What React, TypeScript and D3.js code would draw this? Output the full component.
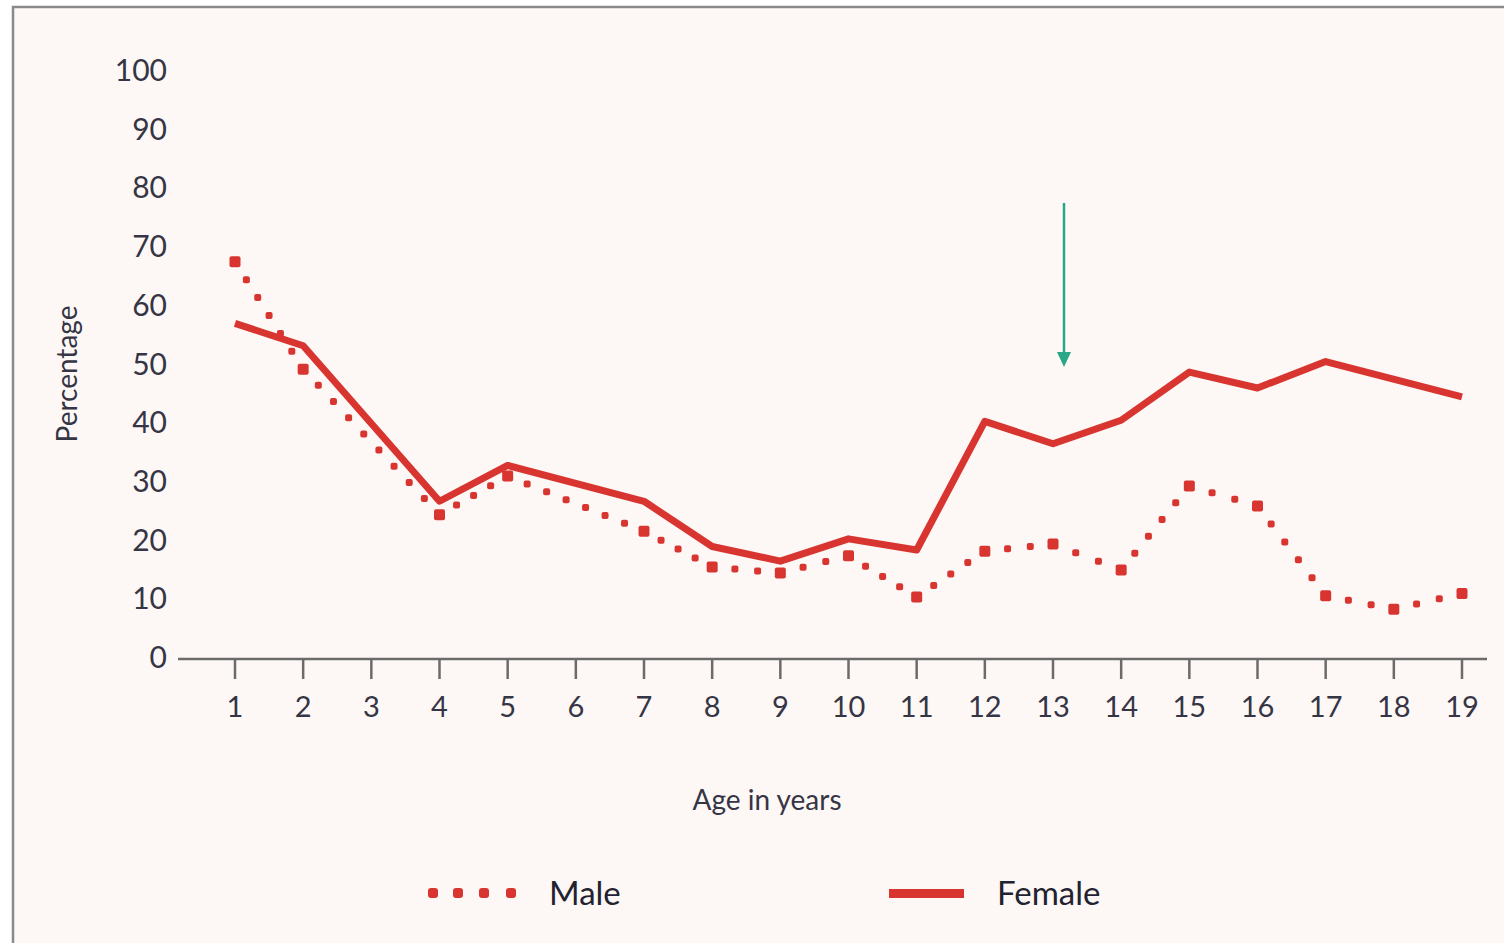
import React from "react";
import * as d3 from "d3";

// Share (%) by age, 1–19 years; null = no survey value for that age
const ages = d3.range(1, 20);
const maleValues: (number | null)[] = [67.5, 49.2, null, 24.4, 31, null, 21.6, 15.5, 14.5, 17.4, 10.4, 18.2, 19.4, 15, 29.3, 25.9, 10.6, 8.3, 11];
const femaleValues: (number | null)[] = [57, 53.2, null, 26.7, 32.8, null, 26.7, 19, 16.5, 20.3, 18.4, 40.3, 36.5, 40.5, 48.7, 46, 50.5, null, 44.5];
const yTicks = [0, 10, 20, 30, 40, 50, 60, 70, 80, 90, 100];
const seriesLabels = ["Male", "Female"];

const W = 1504;
const H = 943;
const RED = "#d93530";
const TEXT = "#353545";
const FONT = "Lato, 'Noto Sans', sans-serif";

type Pt = { age: number; v: number };
const points = (vals: (number | null)[]): Pt[] =>
  vals.flatMap((v, i) => (v == null ? [] : [{ age: ages[i], v }]));

export default function App() {
  const x = d3.scaleLinear().domain([1, 19]).range([235, 1462]);
  const y = d3.scaleLinear().domain([0, 100]).range([658, 71]);
  const axisY = y(0) + 1;

  const line = d3
    .line<Pt>()
    .x((d) => x(d.age))
    .y((d) => y(d.v));

  const male = points(maleValues);
  const female = points(femaleValues);

  const arrowX = x(13) + 11;

  return (
    <svg
      width={W}
      height={H}
      style={{ position: "absolute", left: 0, top: 0, display: "block" }}
      fontFamily={FONT}
    >
      <rect x={0} y={0} width={W} height={H} fill="#ffffff" />
      <rect x={13} y={7} width={W} height={H} fill="#fdf8f5" stroke="#8a8a8a" strokeWidth={2.5} />

      {/* y tick labels */}
      {yTicks.map((t) => (
        <text key={t} x={167} y={y(t) + 10} textAnchor="end" fontSize={30} fill={TEXT}>
          {t}
        </text>
      ))}

      {/* x axis */}
      <line x1={178} x2={1487} y1={axisY} y2={axisY} stroke="#6b6b6b" strokeWidth={2.5} />
      {ages.map((a) => (
        <g key={a}>
          <line x1={x(a)} x2={x(a)} y1={axisY} y2={axisY + 20} stroke="#6b6b6b" strokeWidth={2.5} />
          <text x={x(a)} y={717} textAnchor="middle" fontSize={29} fill={TEXT}>
            {a}
          </text>
        </g>
      ))}

      <text x={767} y={810} textAnchor="middle" fontSize={28} fill={TEXT}>
        Age in years
      </text>
      <text
        transform={`translate(77,374) rotate(-90)`}
        textAnchor="middle"
        fontSize={28}
        fill={TEXT}
      >
        Percentage
      </text>

      {/* Female */}
      <path d={line(female) ?? ""} fill="none" stroke={RED} strokeWidth={7} strokeLinejoin="round" />

      {/* Male: dotted line with markers at each observed age */}
      {male.slice(0, -1).map((p, i) => {
        const q = male[i + 1];
        const x0 = x(p.age);
        const y0 = y(p.v);
        const x1 = x(q.age);
        const y1 = y(q.v);
        const len = Math.hypot(x1 - x0, y1 - y0);
        const n = Math.max(1, Math.round(len / 21));
        return d3.range(1, n).map((k) => {
          const t = k / n;
          return (
            <rect
              key={`${i}-${k}`}
              x={x0 + (x1 - x0) * t - 3.5}
              y={y0 + (y1 - y0) * t - 3.5}
              width={7}
              height={7}
              rx={2}
              fill={RED}
            />
          );
        });
      })}
      {male.map((p) => (
        <rect
          key={`m${p.age}`}
          x={x(p.age) - 5.5}
          y={y(p.v) - 5.5}
          width={11}
          height={11}
          rx={2}
          fill={RED}
        />
      ))}

      {/* Annotation arrow */}
      <line x1={arrowX} x2={arrowX} y1={203} y2={354} stroke="#2aa786" strokeWidth={2.5} />
      <path d={`M${arrowX - 7},${352} L${arrowX + 7},${352} L${arrowX},${367} Z`} fill="#2aa786" />

      {/* Legend */}
      {[433, 458, 484, 511].map((lx) => (
        <rect key={lx} x={lx - 5} y={888} width={10} height={10} rx={3} fill={RED} />
      ))}
      <text x={549} y={905} fontSize={33} fill="#222230">
        {seriesLabels[0]}
      </text>
      <rect x={889} y={889} width={75} height={9} fill={RED} />
      <text x={997} y={905} fontSize={33} fill="#222230">
        {seriesLabels[1]}
      </text>
    </svg>
  );
}
